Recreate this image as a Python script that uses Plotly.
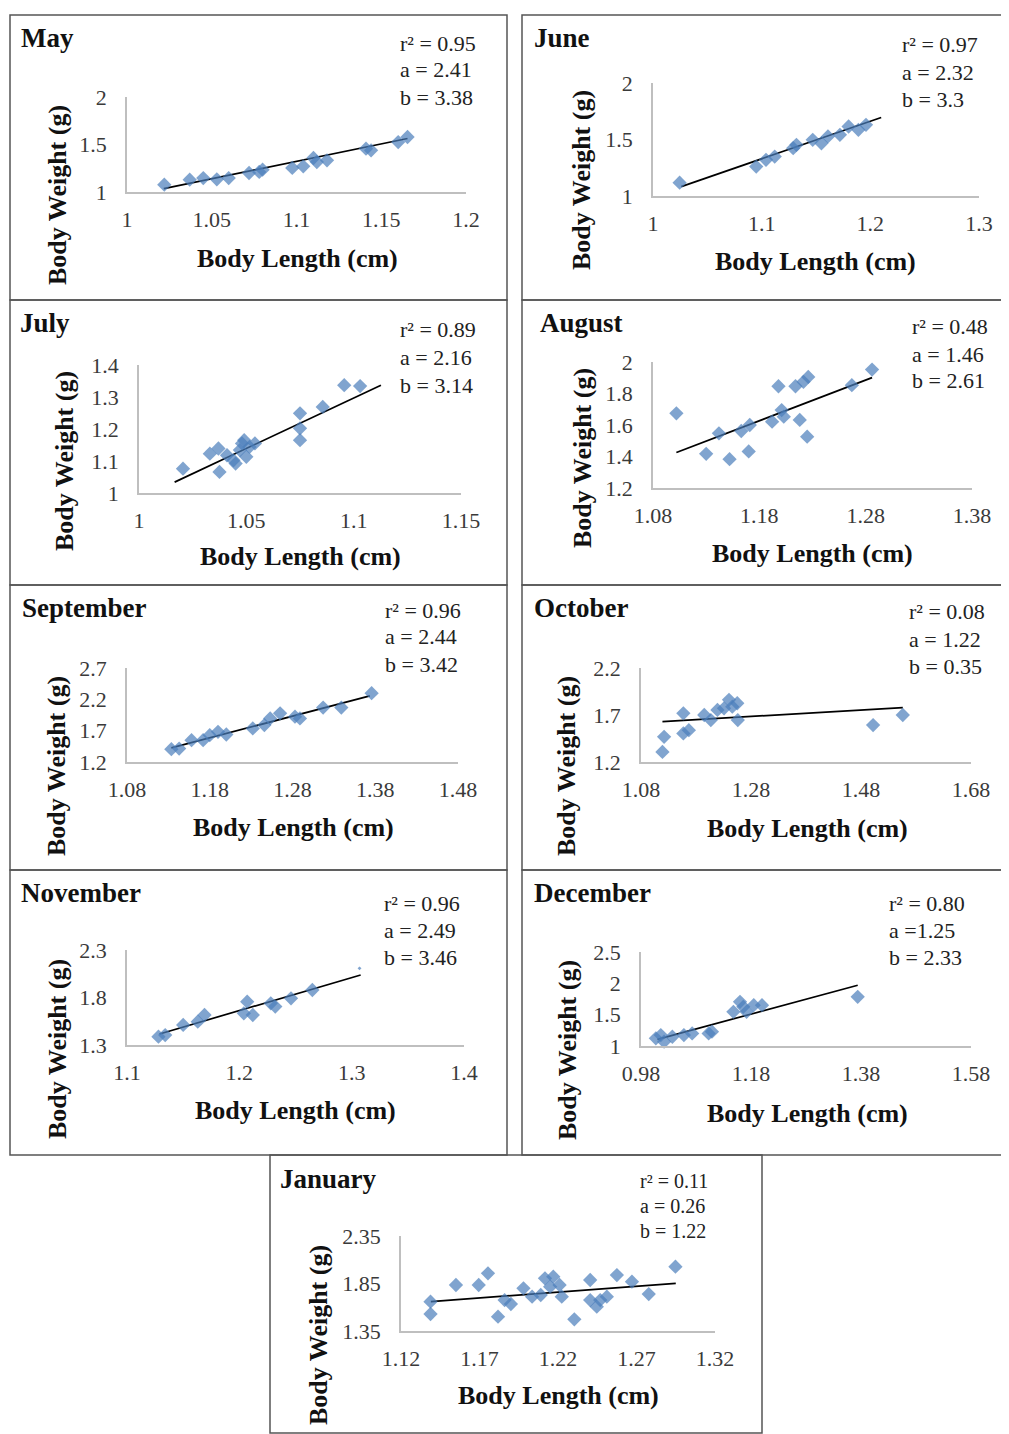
import plotly.graph_objects as go

# page offset (browser body margin) compensation
OFF = 8
W, H = 1001, 1426
SERIF = "Liberation Serif, Times New Roman, serif"
BLUE = "#4A7EBB"

# ---------------- data ----------------
months = ["May", "June", "July", "August", "September", "October", "November", "December", "January"]

may_x = [1.022, 1.037, 1.045, 1.053, 1.060, 1.072, 1.078, 1.080, 1.0975, 1.104, 1.110, 1.112, 1.118, 1.141, 1.144, 1.160, 1.1655]
may_y = [1.077, 1.130, 1.147, 1.133, 1.147, 1.200, 1.211, 1.235, 1.253, 1.270, 1.358, 1.316, 1.333, 1.456, 1.439, 1.526, 1.579]

june_x = [1.0245, 1.095, 1.104, 1.112, 1.129, 1.132, 1.147, 1.155, 1.161, 1.172, 1.180, 1.189, 1.196]
june_y = [1.118, 1.260, 1.320, 1.349, 1.423, 1.453, 1.497, 1.467, 1.527, 1.541, 1.615, 1.586, 1.630]

july_x = [1.0205, 1.033, 1.037, 1.0375, 1.041, 1.044, 1.045, 1.047, 1.048, 1.050, 1.049, 1.0515, 1.054, 1.075, 1.075, 1.075, 1.0856, 1.0956, 1.103]
july_y = [1.076, 1.123, 1.139, 1.066, 1.118, 1.102, 1.092, 1.134, 1.155, 1.113, 1.165, 1.144, 1.155, 1.249, 1.202, 1.165, 1.269, 1.337, 1.334]

aug_x = [1.102, 1.130, 1.142, 1.152, 1.163, 1.170, 1.171, 1.192, 1.198, 1.201, 1.203, 1.214, 1.218, 1.2215, 1.226, 1.225, 1.267, 1.286]
aug_y = [1.674, 1.417, 1.547, 1.383, 1.562, 1.432, 1.600, 1.621, 1.846, 1.695, 1.653, 1.846, 1.632, 1.874, 1.905, 1.526, 1.853, 1.952]

sep_x = [1.1336, 1.143, 1.158, 1.172, 1.180, 1.190, 1.200, 1.232, 1.246, 1.253, 1.265, 1.283, 1.289, 1.317, 1.339, 1.3756]
sep_y = [1.404, 1.414, 1.548, 1.548, 1.628, 1.682, 1.639, 1.736, 1.789, 1.896, 1.977, 1.923, 1.896, 2.068, 2.068, 2.298]

oct_x = [1.119, 1.122, 1.157, 1.157, 1.167, 1.195, 1.207, 1.219, 1.231, 1.240, 1.246, 1.255, 1.256, 1.502, 1.556]
oct_y = [1.307, 1.468, 1.504, 1.718, 1.539, 1.700, 1.646, 1.754, 1.771, 1.861, 1.789, 1.825, 1.646, 1.593, 1.700]

nov_x = [1.128, 1.134, 1.150, 1.163, 1.169, 1.204, 1.207, 1.212, 1.228, 1.232, 1.246, 1.265, 1.307]
nov_y = [1.388, 1.405, 1.511, 1.546, 1.616, 1.633, 1.756, 1.616, 1.739, 1.704, 1.791, 1.879, 2.107]
nov_hidden = [False] * 12 + [True]   # last point mostly covered by the text box

dec_x = [1.007, 1.016, 1.022, 1.037, 1.058, 1.073, 1.103, 1.109, 1.148, 1.160, 1.166, 1.172, 1.185, 1.200, 1.374]
dec_y = [1.122, 1.175, 1.069, 1.148, 1.175, 1.201, 1.201, 1.228, 1.546, 1.705, 1.625, 1.546, 1.652, 1.652, 1.784]

jan_x = [1.1388, 1.1388, 1.155, 1.1695, 1.1754, 1.1818, 1.186, 1.190, 1.198, 1.2035, 1.209, 1.2117, 1.215,
         1.217, 1.221, 1.2224, 1.2304, 1.2405, 1.2405, 1.2447, 1.2469, 1.2511, 1.2575, 1.2671, 1.2778, 1.2948]
jan_y = [1.659, 1.529, 1.834, 1.834, 1.957, 1.501, 1.676, 1.634, 1.799, 1.711, 1.729, 1.904, 1.817,
         1.922, 1.834, 1.711, 1.473, 1.887, 1.676, 1.606, 1.676, 1.711, 1.939, 1.869, 1.739, 2.027]

# trend line end points (x0, x1), (y0, y1)
trend_x = [(1.0217, 1.1655), (1.026, 1.21), (1.0166, 1.1127), (1.102, 1.286), (1.1336, 1.3735),
           (1.119, 1.556), (1.129, 1.308), (1.010, 1.374), (1.139, 1.295)]
trend_y = [(1.035, 1.563), (1.083, 1.695), (1.034, 1.337), (1.425, 1.901), (1.425, 2.255),
           (1.629, 1.779), (1.416, 2.037), (1.106, 1.970), (1.659, 1.852)]

r2_text = ["0.95", "0.97", "0.89", "0.48", "0.96", "0.08", "0.96", "0.80", "0.11"]
a_text = ["a = 2.41", "a = 2.32", "a = 2.16", "a = 1.46", "a = 2.44", "a = 1.22", "a = 2.49", "a =1.25", "a = 0.26"]
b_text = ["b = 3.38", "b = 3.3", "b = 3.14", "b = 2.61", "b = 3.42", "b = 0.35", "b = 3.46", "b = 2.33", "b = 1.22"]

x_ticks = [["1", "1.05", "1.1", "1.15", "1.2"], ["1", "1.1", "1.2", "1.3"], ["1", "1.05", "1.1", "1.15"],
           ["1.08", "1.18", "1.28", "1.38"], ["1.08", "1.18", "1.28", "1.38", "1.48"], ["1.08", "1.28", "1.48", "1.68"],
           ["1.1", "1.2", "1.3", "1.4"], ["0.98", "1.18", "1.38", "1.58"], ["1.12", "1.17", "1.22", "1.27", "1.32"]]
y_ticks = [["1", "1.5", "2"], ["1", "1.5", "2"], ["1", "1.1", "1.2", "1.3", "1.4"],
           ["1.2", "1.4", "1.6", "1.8", "2"], ["1.2", "1.7", "2.2", "2.7"], ["1.2", "1.7", "2.2"],
           ["1.3", "1.8", "2.3"], ["1", "1.5", "2", "2.5"], ["1.35", "1.85", "2.35"]]

series_x = [may_x, june_x, july_x, aug_x, sep_x, oct_x, nov_x, dec_x, jan_x]
series_y = [may_y, june_y, july_y, aug_y, sep_y, oct_y, nov_y, dec_y, jan_y]

# ---------------- layout (pixel geometry of the page) ----------------
# plot area: left, right, top, bottom (px)
areas = [(127, 466, 97, 192), (653, 979, 83, 196), (139, 461, 365, 493), (653, 972, 362, 488),
         (127, 458, 668, 762), (641, 971, 668, 762), (127, 464, 950, 1045), (641, 971, 952, 1046),
         (401, 715, 1236, 1331)]
title_pos = [(19, 38), (532, 38), (18, 323), (538, 323), (20, 608), (532, 608), (19, 893), (532, 893), (278, 1179)]
stats_pos = [(398, 43, 27), (900, 45, 27), (398, 329, 28), (910, 327, 27), (383, 610, 27),
             (907, 612, 27), (382, 903, 27), (887, 903, 27), (638, 1181, 25)]
stats_font = [22, 22, 22, 22, 22, 22, 22, 22, 20]
xtitle_pos = [(297, 258), (815, 262), (300, 557), (812, 553), (293, 827), (807, 828), (295, 1110), (807, 1113), (558, 1395)]
ytitle_pos = [(57, 195), (582, 180), (65, 461), (582, 458), (57, 766), (567, 766), (57, 1049), (567, 1050), (318, 1335)]
boxes = [(10, 15, 507, 300), (522, 15, 1008, 300), (10, 300, 507, 585), (522, 300, 1008, 585),
         (10, 585, 507, 870), (522, 585, 1008, 870), (10, 870, 507, 1155), (522, 870, 1008, 1155),
         (270, 1155, 762, 1433)]


def fx(px):
    return (px - OFF) / W


def fy(py):
    return 1 - (py - OFF) / H


fig = go.Figure()
annotations = []
shapes = []

for i in range(9):
    sfx = "" if i == 0 else str(i + 1)
    xa, ya = "x" + sfx, "y" + sfx
    xs, ys = series_x[i], series_y[i]
    sizes = [11] * len(xs)
    if i == 6:
        sizes = [3 if h else 11 for h in nov_hidden]
    fig.add_trace(go.Scatter(x=list(trend_x[i]), y=list(trend_y[i]), mode="lines",
                             line=dict(color="black", width=1.7), xaxis=xa, yaxis=ya,
                             showlegend=False, hoverinfo="skip", cliponaxis=False))
    fig.add_trace(go.Scatter(x=xs, y=ys, mode="markers", xaxis=xa, yaxis=ya, showlegend=False,
                             marker=dict(symbol="diamond", size=sizes, color=BLUE, line=dict(width=0)),
                             cliponaxis=False))
    l, r, t, b = areas[i]
    xt = [float(v) for v in x_ticks[i]]
    yt = [float(v) for v in y_ticks[i]]
    fig.layout["xaxis" + sfx] = dict(
        domain=[fx(l), fx(r)], range=[xt[0], xt[-1]], anchor=ya, automargin=False,
        tickvals=xt, ticktext=x_ticks[i], showgrid=False, zeroline=False,
        showline=True, linecolor="#BFBFBF", linewidth=1.5,
        ticks="outside", ticklen=7, tickcolor="rgba(0,0,0,0)",
        tickfont=dict(family=SERIF, size=22, color="#3a3a3a"), fixedrange=True)
    fig.layout["yaxis" + sfx] = dict(
        domain=[fy(b), fy(t)], range=[yt[0], yt[-1]], anchor=xa, automargin=False,
        tickvals=yt, ticktext=y_ticks[i], showgrid=False, zeroline=False,
        showline=True, linecolor="#BFBFBF", linewidth=1.5,
        ticks="outside", ticklen=14, tickcolor="rgba(0,0,0,0)",
        tickfont=dict(family=SERIF, size=22, color="#3a3a3a"), fixedrange=True)

    tx, ty = title_pos[i]
    annotations.append(dict(x=fx(tx), y=fy(ty), xref="paper", yref="paper", xanchor="left", yanchor="middle",
                            text="<b>" + months[i] + "</b>", showarrow=False,
                            font=dict(family=SERIF, size=27, color="#111")))
    sx, sy, dy = stats_pos[i]
    lines = ["r² = " + r2_text[i], a_text[i], b_text[i]]
    for k, ln in enumerate(lines):
        annotations.append(dict(x=fx(sx), y=fy(sy + k * dy), xref="paper", yref="paper", xanchor="left",
                                yanchor="middle", text=ln, showarrow=False,
                                font=dict(family=SERIF, size=stats_font[i], color="#222")))
    xtx, xty = xtitle_pos[i]
    annotations.append(dict(x=fx(xtx), y=fy(xty), xref="paper", yref="paper", xanchor="center", yanchor="middle",
                            text="<b>Body Length (cm)</b>", showarrow=False,
                            font=dict(family=SERIF, size=26, color="#111")))
    ytx, yty = ytitle_pos[i]
    annotations.append(dict(x=fx(ytx), y=fy(yty), xref="paper", yref="paper", xanchor="center", yanchor="middle",
                            text="<b>Body Weight (g)</b>", showarrow=False, textangle=-90,
                            font=dict(family=SERIF, size=26, color="#111")))

for (x0, y0, x1, y1) in boxes:
    shapes.append(dict(type="rect", xref="paper", yref="paper", x0=fx(x0), x1=fx(x1), y0=fy(y1), y1=fy(y0),
                       line=dict(color="#555555", width=1.5), fillcolor="rgba(0,0,0,0)", layer="below"))

fig.update_layout(template="none", width=W, height=H, margin=dict(l=0, r=0, t=0, b=0, pad=0),
                  paper_bgcolor="white", plot_bgcolor="white",
                  annotations=annotations, shapes=shapes, showlegend=False)

fig.write_html("out.html", config={"displayModeBar": False})
